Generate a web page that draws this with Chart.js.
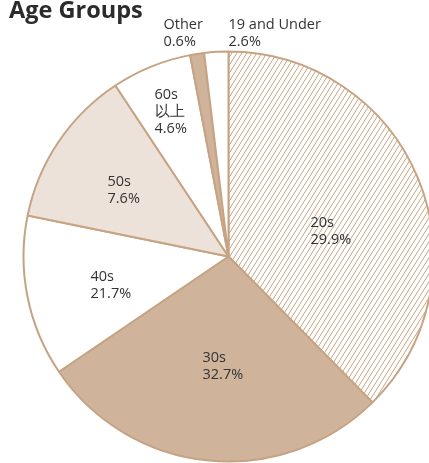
<!DOCTYPE html>
<html>
<head>
<meta charset="utf-8">
<script src="https://cdn.jsdelivr.net/npm/chart.js@4"></script>
<style>
  html, body { margin: 0; padding: 0; background: #fff; overflow: hidden; }
  #wrap { position: relative; width: 429px; height: 463px; }
</style>
</head>
<body>
<div id="wrap"><canvas id="ageChart" width="429" height="463"></canvas></div>
<script>
// slices clockwise from 12 o'clock
const groups = ["20s", "30s", "40s", "50s", "60s\n以上", "Other", "19 and Under"];
// percentages printed on the chart
const printed = ["29.9%", "32.7%", "21.7%", "7.6%", "4.6%", "0.6%", "2.6%"];
// share of the circle each slice takes in the drawing (measured from the angles)
const drawnShare = [37.6, 27.9, 12.7, 12.5, 6.3, 1.1, 1.9];

const TAN = "#cfb49b";
const EDGE = "#c6a383";
const BEIGE = "#ede2d9";

function hatch() {
  const c = document.createElement("canvas");
  const w = 5, h = 8;
  c.width = w; c.height = h;
  const g = c.getContext("2d");
  g.fillStyle = "#fff";
  g.fillRect(0, 0, w, h);
  g.strokeStyle = "#c6a686";
  g.lineWidth = 1;
  g.beginPath();
  [-w, 0, w].forEach(function (o) {
    g.moveTo(o, h);
    g.lineTo(o + w, 0);
  });
  g.stroke();
  return g.createPattern(c, "repeat");
}

// label anchors (left edge, first line centre) as offsets from the pie centre
const labelPos = [
  [82, -34], [-26, 101], [-138, 20], [-121, -75], [-74, -162], [-65, -232], [0, -232]
];

const labelPlugin = {
  id: "labels",
  afterDraw(chart) {
    const ctx = chart.ctx;
    const arc = chart.getDatasetMeta(0).data[0];
    ctx.save();
    ctx.fillStyle = "#2b2b2b";
    ctx.font = "bold 23.5px 'Open Sans'";
    ctx.textBaseline = "alphabetic";
    ctx.textAlign = "left";
    ctx.fillText("Age Groups", 9, 18);

    ctx.fillStyle = "#333";
    ctx.font = "14.5px 'Open Sans'";
    ctx.textBaseline = "middle";
    groups.forEach(function (g, i) {
      const lines = g.split("\n").concat([printed[i]]);
      const x = arc.x + labelPos[i][0];
      const y = arc.y + labelPos[i][1];
      lines.forEach(function (t, j) {
        ctx.fillText(t, x, y + j * 17);
      });
    });
    ctx.restore();
  }
};

const ctx = document.getElementById("ageChart").getContext("2d");

new Chart(ctx, {
  type: "pie",
  data: {
    labels: groups,
    datasets: [{
      data: drawnShare,
      backgroundColor: [hatch(), TAN, "#ffffff", BEIGE, "#ffffff", TAN, "#ffffff"],
      borderColor: EDGE,
      borderWidth: 2,
      clip: false
    }]
  },
  options: {
    responsive: false,
    animation: false,
    devicePixelRatio: 1,
    radius: 205,
    layout: { padding: { left: 28, top: 50, right: 0, bottom: 0 } },
    plugins: {
      legend: { display: false },
      tooltip: { enabled: false }
    }
  },
  plugins: [labelPlugin]
});
</script>
</body>
</html>
